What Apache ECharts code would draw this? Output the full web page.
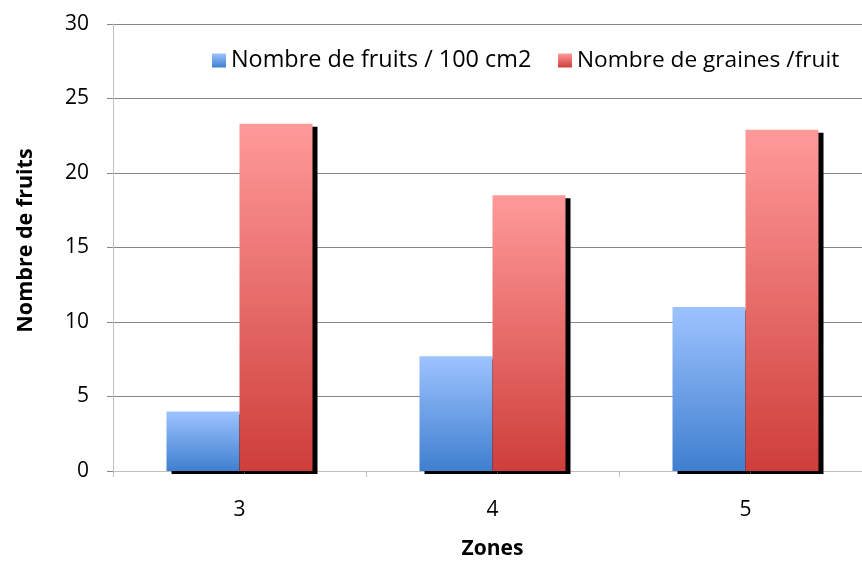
<!DOCTYPE html>
<html>
<head>
<meta charset="utf-8">
<script src="https://cdn.jsdelivr.net/npm/echarts@6/dist/echarts.min.js"></script>
<style>
  html, body { margin: 0; padding: 0; background: #fff; }
  #chart { width: 862px; height: 563px; }
</style>
</head>
<body>
<div id="chart"></div>
<script>
// Zones and the two measured quantities per zone
const zones = ['3', '4', '5'];
const fruitsPer100cm2 = [4.0, 7.7, 11.0];
const grainesParFruit = [23.3, 18.5, 22.9];
const seriesNames = ['Nombre de fruits / 100 cm2', 'Nombre de graines /fruit'];
const yTicks = { min: 0, max: 30, step: 5 };

const FONT = 'Open Sans';

function vGrad(top, bottom) {
  return new echarts.graphic.LinearGradient(0, 0, 0, 1, [
    { offset: 0, color: top },
    { offset: 1, color: bottom }
  ]);
}

const blueFill = vGrad('#9DC3FF', '#3F7FCF');
const redFill = vGrad('#FF9A9A', '#CE3E3A');

const barShadow = {
  shadowColor: '#000',
  shadowBlur: 0,
  shadowOffsetX: 5,
  shadowOffsetY: 3
};

function legendFor(name, left, fontSize) {
  return {
    left: left,
    top: 49,
    padding: 0,
    itemWidth: 14,
    itemHeight: 14,
    itemGap: 0,
    icon: 'rect',
    textStyle: { fontFamily: FONT, fontSize: fontSize, color: '#000' },
    data: [name]
  };
}

const chart = echarts.init(document.getElementById('chart'), null, { renderer: 'canvas' });

chart.setOption({
  animation: false,
  backgroundColor: '#ffffff',
  textStyle: { fontFamily: FONT },
  grid: { left: 113, top: 24, width: 759, height: 447, outerBoundsMode: 'none' },
  legend: [
    legendFor(seriesNames[0], 212, 23.4),
    legendFor(seriesNames[1], 558, 22.7)
  ],
  xAxis: {
    type: 'category',
    data: zones,
    name: 'Zones',
    nameLocation: 'middle',
    nameGap: 68,
    nameTextStyle: { fontFamily: FONT, fontSize: 21, fontWeight: 'bold', color: '#000' },
    axisLine: { lineStyle: { color: '#BFBFBF', width: 1 } },
    axisTick: { show: true, length: 6, lineStyle: { color: '#BFBFBF' } },
    axisLabel: { margin: 29, fontFamily: FONT, fontSize: 21, color: '#000' },
    splitLine: { show: false }
  },
  yAxis: {
    type: 'value',
    min: yTicks.min,
    max: yTicks.max,
    interval: yTicks.step,
    name: 'Nombre de fruits',
    nameLocation: 'middle',
    nameGap: 76,
    nameTextStyle: {
      fontFamily: FONT, fontSize: 21.5, fontWeight: 'bold', color: '#000',
      padding: [0, 0, 0, 14]
    },
    axisLine: { show: true, lineStyle: { color: '#BFBFBF', width: 1 } },
    axisTick: { show: true, length: 6, lineStyle: { color: '#878787' } },
    axisLabel: { margin: 24, fontFamily: FONT, fontSize: 21, color: '#000' },
    splitLine: { show: true, lineStyle: { color: '#878787', width: 1 } }
  },
  series: [
    {
      name: seriesNames[0],
      type: 'bar',
      data: fruitsPer100cm2,
      barWidth: 73,
      barGap: '0%',
      itemStyle: Object.assign({ color: blueFill }, barShadow)
    },
    {
      name: seriesNames[1],
      type: 'bar',
      data: grainesParFruit,
      barWidth: 73,
      barGap: '0%',
      itemStyle: Object.assign({ color: redFill }, barShadow)
    }
  ]
});
</script>
</body>
</html>
